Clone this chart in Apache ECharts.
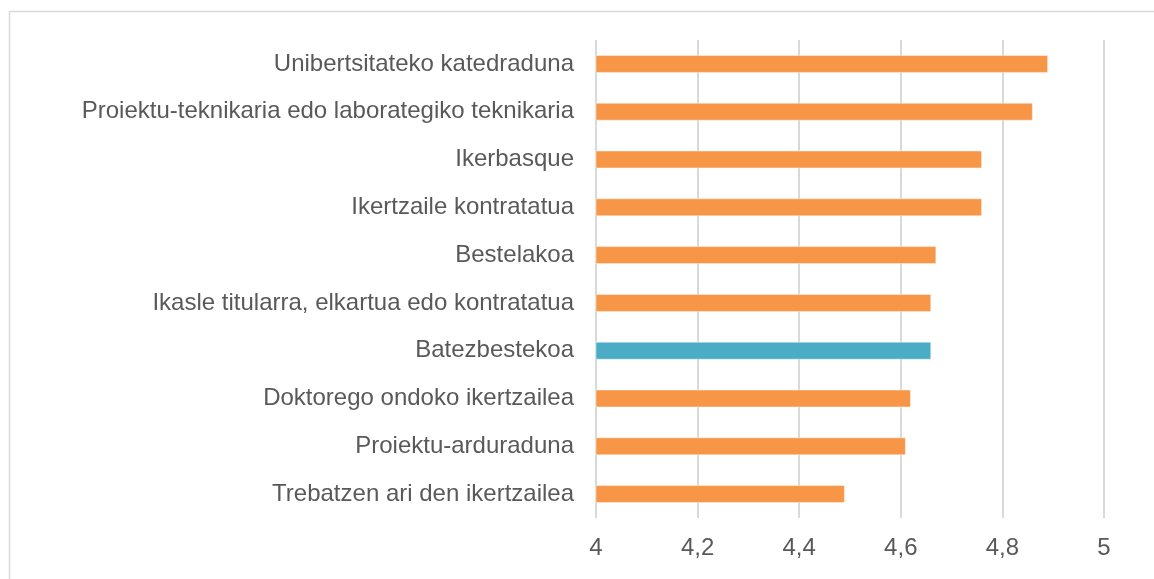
<!DOCTYPE html>
<html>
<head>
<meta charset="utf-8">
<script src="https://cdn.jsdelivr.net/npm/echarts@6/dist/echarts.min.js"></script>
<style>
  html, body { margin: 0; padding: 0; background: #ffffff; }
  #chart { width: 1154px; height: 579px; }
</style>
</head>
<body>
<div id="chart"></div>
<script>
// Categories listed bottom to top (category axis on y starts at the bottom)
const categories = [
  'Trebatzen ari den ikertzailea',
  'Proiektu-arduraduna',
  'Doktorego ondoko ikertzailea',
  'Batezbestekoa',
  'Ikasle titularra, elkartua edo kontratatua',
  'Bestelakoa',
  'Ikertzaile kontratatua',
  'Ikerbasque',
  'Proiektu-teknikaria edo laborategiko teknikaria',
  'Unibertsitateko katedraduna'
];
const values = [4.49, 4.61, 4.62, 4.66, 4.66, 4.67, 4.76, 4.76, 4.86, 4.89];
const averageLabel = 'Batezbestekoa';

const ORANGE = '#F79646';
const BLUE = '#4BACC6';
const TEXT = '#595959';
const FONT = '"Liberation Sans", Arial, sans-serif';

const chart = echarts.init(document.getElementById('chart'), null, { renderer: 'canvas' });

chart.setOption({
  animation: false,
  backgroundColor: '#ffffff',
  graphic: [{
    type: 'rect',
    left: 7, top: 9,
    shape: { width: 1200, height: 640 },
    style: { fill: 'none', stroke: '#d9d9d9', lineWidth: 1.5 },
    silent: true, z: -1
  }],
  grid: { left: 596, right: 50, top: 40, bottom: 61, containLabel: false },
  xAxis: {
    type: 'value',
    min: 4, max: 5, interval: 0.2,
    axisLine: { show: false },
    axisTick: { show: false },
    splitLine: { show: true, lineStyle: { color: '#d9d9d9', width: 2 } },
    axisLabel: {
      color: TEXT, fontSize: 24, fontFamily: FONT, margin: 18,
      formatter: v => String(Math.round(v * 10) / 10).replace('.', ',')
    }
  },
  yAxis: {
    type: 'category',
    data: categories,
    axisLine: { show: false },
    axisTick: { show: false },
    axisLabel: { color: TEXT, fontSize: 24, fontFamily: FONT, margin: 22 }
  },
  series: [{
    type: 'bar',
    barWidth: 18,
    data: values.map((v, i) => ({
      value: v,
      itemStyle: { color: categories[i] === averageLabel ? BLUE : ORANGE }
    })),
    itemStyle: { borderColor: 'rgba(255,255,255,0.45)', borderWidth: 1 }
  }]
});
</script>
</body>
</html>
